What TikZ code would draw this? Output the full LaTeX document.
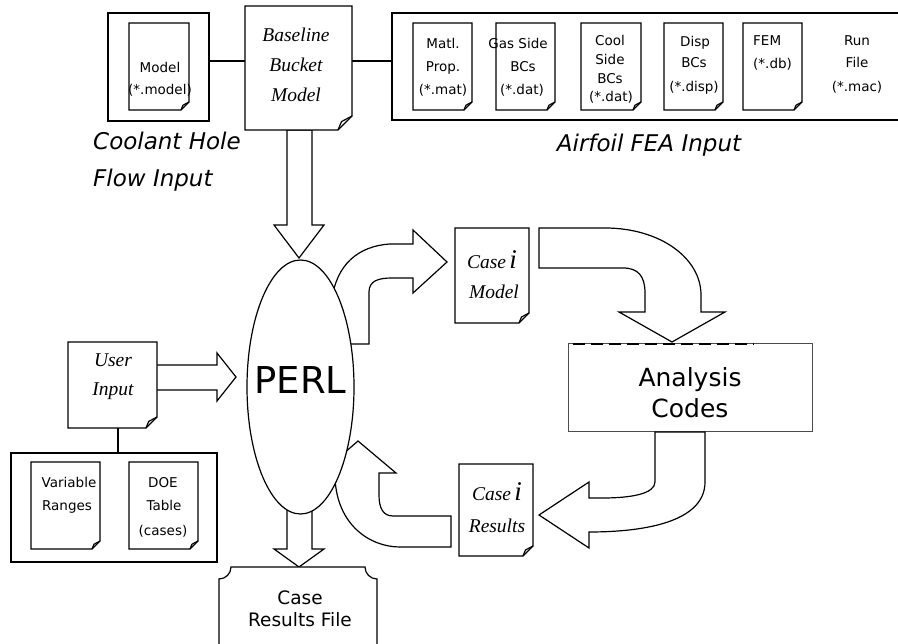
\documentclass[tikz,border=0pt]{standalone}
\usepackage{fontspec}
\setmainfont{DejaVu Sans}
\newfontfamily\tms{Liberation Serif}
\usetikzlibrary{calc,shapes.geometric}
\newcommand\docout[2]{%
  \draw[ln, fill=white] (#1.north west) -- (#1.north east) -- ($(#1.south east)+(0,-#2)$) -- ($(#1.south east)+(-#2,0)$) -- (#1.south west) -- cycle;
  \draw[ln] ($(#1.south east)+(0,-#2)$) -- ($(#1.south east)+(-0.75*#2,-0.6*#2)$) .. controls ($(#1.south east)+(-0.85*#2,-0.3*#2)$) .. ($(#1.south east)+(-#2,0)$);
}
\tikzset{
  ln/.style={line width=1.2pt, line join=miter},
  blk/.style={ln, fill=white},
  area/.style={inner sep=0pt, outer sep=0pt},
  sm/.style={font=\fontsize{13.5}{15}\selectfont, inner sep=0pt, text height=9.8pt, text depth=0pt},
  tm/.style={font=\tms\itshape\fontsize{19.5}{22}\selectfont, inner sep=0pt, text height=12.9pt, text depth=0pt},
  lab/.style={font=\itshape\fontsize{23}{26}\selectfont, inner sep=0pt, text height=16.8pt, text depth=0pt},
  md/.style={font=\fontsize{18.5}{22}\selectfont, inner sep=0pt, text height=13.5pt, text depth=0pt},
  an/.style={font=\fontsize{25}{28}\selectfont, inner sep=0pt, text height=18.2pt, text depth=0pt},
}
\newcommand\bigi{{\fontsize{27}{27}\selectfont i}}
\begin{document}
\begin{tikzpicture}[x=1pt,y=-1pt]
\useasboundingbox (0,0) rectangle (898,644);
\clip (0,0) rectangle (898,644);

% group boxes
\node[area, draw, ln, minimum width=101pt, minimum height=108pt] (coolbox) at (158.5,67) {};
\node[area, minimum width=520pt, minimum height=107pt] (airbox) at (652,66.5) {};
\draw[ln] (airbox.north east) -- (airbox.north west) -- (airbox.south west) -- (airbox.south east);
\node[area, draw, ln, minimum width=206pt, minimum height=109pt] (inbox) at (114,507.5) {};

% documents (named areas)
\node[area, minimum width=60pt, minimum height=87pt] (modeldoc) at (159,66.5) {};
\node[area, minimum width=107pt, minimum height=124pt] (base) at (298.5,68) {};
\node[area, minimum width=59pt, minimum height=87pt] (matl) at (442.5,66.5) {};
\node[area, minimum width=59pt, minimum height=87pt] (gas) at (525.5,66.5) {};
\node[area, minimum width=60pt, minimum height=87pt] (cool) at (611,66.5) {};
\node[area, minimum width=59pt, minimum height=87pt] (disp) at (693.5,66.5) {};
\node[area, minimum width=59pt, minimum height=87pt] (fem) at (772.5,66.5) {};
\node[area, minimum width=89pt, minimum height=86pt] (user) at (112.5,385) {};
\node[area, minimum width=69pt, minimum height=87pt] (varr) at (65.5,505.5) {};
\node[area, minimum width=69pt, minimum height=87pt] (doe) at (163.5,505.5) {};
\node[area, minimum width=74pt, minimum height=95pt] (cmod) at (492,275.5) {};
\node[area, minimum width=74pt, minimum height=92pt] (cres) at (496,510) {};
\node[area, draw=black!70, line width=1pt, fill=white, minimum width=244pt, minimum height=88pt] (ana) at (690,388) {};
\node[area, minimum width=158pt, minimum height=90pt] (crf) at (298,612) {};

% plain connectors
\draw[ln] ([yshift=6pt]coolbox.east) -- ([yshift=7pt]base.west);
\draw[ln] ([yshift=7pt]base.east) -- ([yshift=5.5pt]airbox.west);
\draw[ln] ([xshift=5.5pt]user.south) -- ([xshift=5.5pt]user.south |- inbox.north);

% block arrows
\draw[blk] (287,130) -- (287,225) -- (274,225) -- (299,258) -- (324,225) -- (312,225) -- (312,130) -- cycle;
\draw[blk] (150,365) -- (217,365) -- (217,353) -- (236,377) -- (217,401) -- (217,390) -- (150,390) -- cycle;
\draw[blk] (287,480) -- (287,549) -- (274,549) -- (299,567) -- (324,549) -- (312,549) -- (312,480) -- cycle;
\draw[blk] (340,344) -- (369,344) -- (369,292) .. controls (369,281) and (378,278) .. (392,278) -- (413,278) -- (413,293) -- (447,262) -- (413,230) -- (413,244) -- (390,244) .. controls (358,246) and (336,265) .. (332,300) -- cycle;
\draw[blk] (539,228) -- (539,268) -- (623,268) .. controls (638,268) and (645,276) .. (645,293) -- (645,312) -- (619,312) -- (672,342) -- (725,312) -- (701,312) -- (701,295) .. controls (701,258) and (660,228) .. (605,228) -- cycle;
\draw[blk] (655,432) -- (655,482) .. controls (655,494) and (630,498) .. (603,498) -- (589,498) -- (589,482) -- (539,515) -- (589,548) -- (589,532) .. controls (650,532) and (705,520) .. (705,482) -- (705,432) -- cycle;
\draw[blk] (451,516) -- (393,516) .. controls (383,516) and (379,508) .. (379,495) -- (379,473) -- (396,473) -- (358,441) -- (321,473) -- (335,473) -- (335,478) .. controls (337,525) and (370,547) .. (400,547) -- (451,547) -- cycle;

% PERL
\node[area, ellipse, draw, ln, fill=white, minimum width=107pt, minimum height=254pt] (perl) at (300.5,387) {};
\node[inner sep=0pt, font=\fontsize{37}{40}\selectfont, text height=27pt, text depth=0pt] (perlt) at (300.5,380) {PERL};

% dashed top of analysis box
\draw[line width=2.2pt, dash pattern=on 12pt off 6pt] ([xshift=5pt]ana.north west) -- ([xshift=-58pt]ana.north east);

% documents outlines
\docout{modeldoc}{8}
\docout{base}{14}
\docout{matl}{8}
\docout{gas}{8}
\docout{cool}{8}
\docout{disp}{8}
\docout{fem}{8}
\docout{user}{11}
\docout{varr}{8}
\docout{doe}{8}
\docout{cmod}{10}
\docout{cres}{10}

% case results file plaque
\draw[ln, fill=white] ($(crf.north west)+(12,0)$) -- ($(crf.north east)+(-12,0)$)
  .. controls ($(crf.north east)+(-12,6.6)$) and ($(crf.north east)+(-6.6,12)$) .. ($(crf.north east)+(0,12)$)
  -- ($(crf.south east)+(0,-12)$)
  .. controls ($(crf.south east)+(-6.6,-12)$) and ($(crf.south east)+(-12,-6.6)$) .. ($(crf.south east)+(-12,0)$)
  -- ($(crf.south west)+(12,0)$)
  .. controls ($(crf.south west)+(12,-6.6)$) and ($(crf.south west)+(6.6,-12)$) .. ($(crf.south west)+(0,-12)$)
  -- ($(crf.north west)+(0,12)$)
  .. controls ($(crf.north west)+(6.6,12)$) and ($(crf.north west)+(12,6.6)$) .. ($(crf.north west)+(12,0)$) -- cycle;

% texts
\node[sm] (t1) at (160,68) {Model};
\node[sm] (t2) at (160,90) {(*.model)};
\node[tm] (t3) at (296,35) {Baseline};
\node[tm] (t4) at (296,65) {Bucket};
\node[tm] (t5) at (296,95) {Model};
\node[sm] (t6) at (443,44) {Matl.};
\node[sm] (t7) at (443,67) {Prop.};
\node[sm] (t8) at (443,90) {(*.mat)};
\node[sm] (t9) at (518,44) {Gas Side};
\node[sm] (t10) at (523,67) {BCs};
\node[sm] (t11) at (522,90) {(*.dat)};
\node[sm] (t12) at (610,41) {Cool};
\node[sm] (t13) at (610,60) {Side};
\node[sm] (t14) at (610,79) {BCs};
\node[sm] (t15) at (611,97) {(*.dat)};
\node[sm] (t16) at (695,42) {Disp};
\node[sm] (t17) at (694,63) {BCs};
\node[sm] (t18) at (694,87) {(*.disp)};
\node[sm, anchor=west] (t19) at (753,41) {FEM};
\node[sm, anchor=west] (t20) at (753,64) {(*.db)};
\node[sm] (t21) at (857,41) {Run};
\node[sm] (t22) at (857,63) {File};
\node[sm] (t23) at (857,87) {(*.mac)};
\node[lab, anchor=west] (t24) at (93,141) {Coolant Hole};
\node[lab, anchor=west] (t25) at (93,178) {Flow Input};
\node[lab] (t26) at (649,143) {Airfoil FEA Input};
\node[tm] (t27) at (113,360) {User};
\node[tm] (t28) at (113,389) {Input};
\node[sm] (t29) at (69,483) {Variable};
\node[sm] (t30) at (67,506) {Ranges};
\node[sm] (t31) at (163,483) {DOE};
\node[sm] (t32) at (164,506) {Table};
\node[sm] (t33) at (163,531) {(cases)};
\node[tm] (t34) at (492,262) {Case\,\bigi};
\node[tm] (t35) at (494,292) {Model};
\node[tm] (t36) at (497,494) {Case\,\bigi};
\node[tm] (t37) at (497,526) {Results};
\node[an] (t38) at (690,377) {Analysis};
\node[an] (t39) at (690,408) {Codes};
\node[md] (t40) at (300,598) {Case};
\node[md] (t41) at (300,620) {Results File};
\end{tikzpicture}
\end{document}
